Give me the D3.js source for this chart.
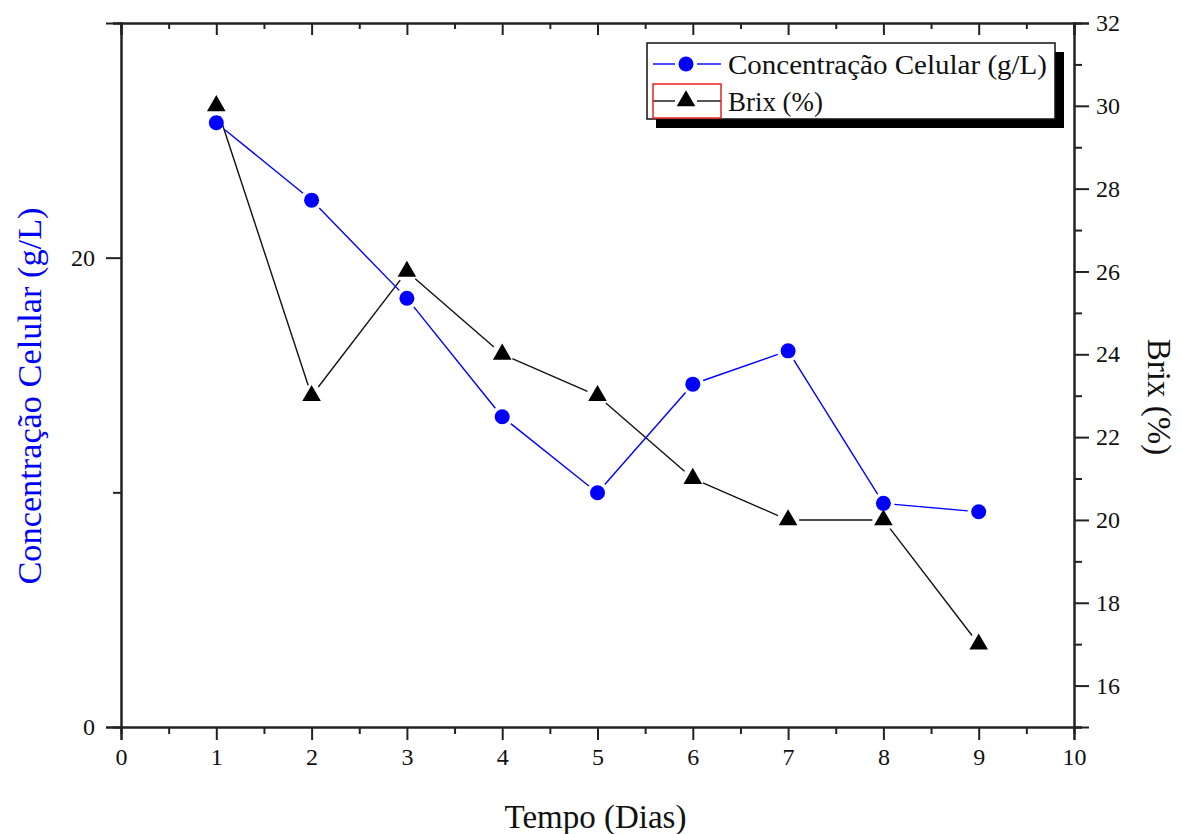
<!DOCTYPE html>
<html>
<head>
<meta charset="utf-8">
<script src="https://cdn.jsdelivr.net/npm/d3@7"></script>
<style>
  body { margin: 0; background: #fff; }
  svg { display: block; font-family: "Liberation Serif", "Times New Roman", serif; }
</style>
</head>
<body>
<svg id="chart" width="1182" height="834"></svg>
<script>
// values
const dias = [1, 2, 3, 4, 5, 6, 7, 8, 9];
const concentracao = [25.75, 22.45, 18.27, 13.22, 9.98, 14.61, 16.03, 9.53, 9.17];
const brix = [30, 23, 26, 24, 23, 21, 20, 20, 17];

const xTicks = [0, 1, 2, 3, 4, 5, 6, 7, 8, 9, 10];
const leftTicks = [0, 20];
const rightTicks = [16, 18, 20, 22, 24, 26, 28, 30, 32];

const svg = d3.select("#chart");
const pLeft = 121, pRight = 1074, pTop = 23, pBottom = 727;

const x = d3.scaleLinear().domain([0, 10]).range([pLeft, pRight]);
const yL = d3.scaleLinear().domain([0, 30]).range([pBottom, pTop]);
const yR = d3.scaleLinear().domain([15, 32]).range([pBottom, pTop]);

const axisColor = "#222";

// minor ticks first, then major ticks with labels
function drawAxis(axisGen, tr) {
    const g = svg.append("g").attr("transform", tr).call(axisGen);
    g.select(".domain").attr("stroke", axisColor).attr("stroke-width", 2);
    g.selectAll(".tick line").attr("stroke", axisColor).attr("stroke-width", 2);
    g.selectAll(".tick text").attr("fill", "#111").style("font-size", "24px")
        .style("font-family", "'Liberation Serif', serif");
    return g;
}

const xMinor = d3.range(0.5, 10, 1);
drawAxis(d3.axisBottom(x).tickValues(xMinor).tickSize(7).tickFormat(""), `translate(0,${pBottom})`);
drawAxis(d3.axisBottom(x).tickValues(xTicks).tickSize(13).tickPadding(8).tickFormat(d3.format("d")), `translate(0,${pBottom})`);
drawAxis(d3.axisBottom(x).tickValues(xMinor).tickSize(6).tickFormat(""), `translate(0,${pTop})`);
drawAxis(d3.axisBottom(x).tickValues(xTicks).tickSize(12).tickFormat(""), `translate(0,${pTop})`);

drawAxis(d3.axisLeft(yL).tickValues([10, 30]).tickSize(8).tickFormat(""), `translate(${pLeft},0)`);
drawAxis(d3.axisLeft(yL).tickValues(leftTicks).tickSize(15).tickPadding(11).tickFormat(d3.format("d")), `translate(${pLeft},0)`);

drawAxis(d3.axisRight(yR).tickValues(d3.range(15, 32, 2)).tickSize(8).tickFormat(""), `translate(${pRight},0)`);
drawAxis(d3.axisRight(yR).tickValues(rightTicks).tickSize(15).tickPadding(7).tickFormat(d3.format("d")), `translate(${pRight},0)`);

// axis titles
svg.append("text")
    .attr("x", (pLeft + pRight) / 2 - 2).attr("y", 828)
    .attr("text-anchor", "middle")
    .style("font-size", "33px").attr("fill", "#111")
    .text("Tempo (Dias)");

svg.append("text")
    .attr("transform", `translate(41,396) rotate(-90)`)
    .attr("text-anchor", "middle")
    .style("font-size", "33px").attr("fill", "#0000ff")
    .attr("textLength", 377).attr("lengthAdjust", "spacingAndGlyphs")
    .text("Concentração Celular (g/L)");

svg.append("text")
    .attr("transform", `translate(1148,397) rotate(90)`)
    .attr("text-anchor", "middle")
    .style("font-size", "33px").attr("fill", "#111")
    .text("Brix (%)");

// series: lines leave a small gap around every marker
function gappedSegments(xs, ys, gap) {
    const segs = [];
    for (let i = 0; i < xs.length - 1; i++) {
        const x0 = xs[i], y0 = ys[i], x1 = xs[i + 1], y1 = ys[i + 1];
        const len = Math.hypot(x1 - x0, y1 - y0);
        const ux = (x1 - x0) / len, uy = (y1 - y0) / len;
        segs.push([[x0 + ux * gap, y0 + uy * gap], [x1 - ux * gap, y1 - uy * gap]]);
    }
    return segs;
}

const line = d3.line();

const px = dias.map(d => x(d)), pyL = concentracao.map(d => yL(d)), pyR = brix.map(d => yR(d));

svg.append("g").selectAll("path")
    .data(gappedSegments(px, pyR, 11))
    .join("path")
    .attr("d", d => line(d))
    .attr("stroke", "#111").attr("stroke-width", 1.4).attr("fill", "none");

svg.append("g").selectAll("path")
    .data(gappedSegments(px, pyL, 11))
    .join("path")
    .attr("d", d => line(d))
    .attr("stroke", "#0000ff").attr("stroke-width", 1.4).attr("fill", "none");

const tri = d3.symbol().type(d3.symbolTriangle).size(150);

svg.append("g").selectAll("path")
    .data(dias)
    .join("path")
    .attr("transform", (d, i) => `translate(${x(d)},${yR(brix[i])})`)
    .attr("d", tri)
    .attr("fill", "#000");

svg.append("g").selectAll("circle")
    .data(dias)
    .join("circle")
    .attr("cx", d => x(d))
    .attr("cy", (d, i) => yL(concentracao[i]))
    .attr("r", 7.5)
    .attr("fill", "#0000ff");

// legend
const lg = svg.append("g");
const lx = 647, ly = 43, lw = 408, lh = 76, sh = 9;
lg.append("rect").attr("x", lx + sh).attr("y", ly + sh).attr("width", lw).attr("height", lh).attr("fill", "#000");
lg.append("rect").attr("x", lx).attr("y", ly).attr("width", lw).attr("height", lh)
    .attr("fill", "#fff").attr("stroke", "#111").attr("stroke-width", 1.5);

const rows = [
    { label: "Concentração Celular (g/L)", color: "#0000ff", y: 64, len: 319 },
    { label: "Brix (%)", color: "#111", y: 101, len: 95 }
];

rows.forEach((r, i) => {
    lg.append("line").attr("x1", lx + 6).attr("x2", lx + 28).attr("y1", r.y).attr("y2", r.y)
        .attr("stroke", r.color).attr("stroke-width", 1.4);
    lg.append("line").attr("x1", lx + 50).attr("x2", lx + 74).attr("y1", r.y).attr("y2", r.y)
        .attr("stroke", r.color).attr("stroke-width", 1.4);
    if (i === 0) {
        lg.append("circle").attr("cx", lx + 39).attr("cy", r.y).attr("r", 7.5).attr("fill", r.color);
    } else {
        lg.append("path").attr("transform", `translate(${lx + 39},${r.y})`).attr("d", tri).attr("fill", "#000");
        lg.append("rect").attr("x", lx + 6).attr("y", r.y - 17).attr("width", 68).attr("height", 34)
            .attr("fill", "none").attr("stroke", "#e82020").attr("stroke-width", 1.5);
    }
    lg.append("text")
        .attr("x", lx + 81).attr("y", r.y + 10)
        .style("font-size", "27px").attr("fill", "#111")
        .attr("textLength", r.len).attr("lengthAdjust", "spacingAndGlyphs")
        .text(r.label);
});
</script>
</body>
</html>
